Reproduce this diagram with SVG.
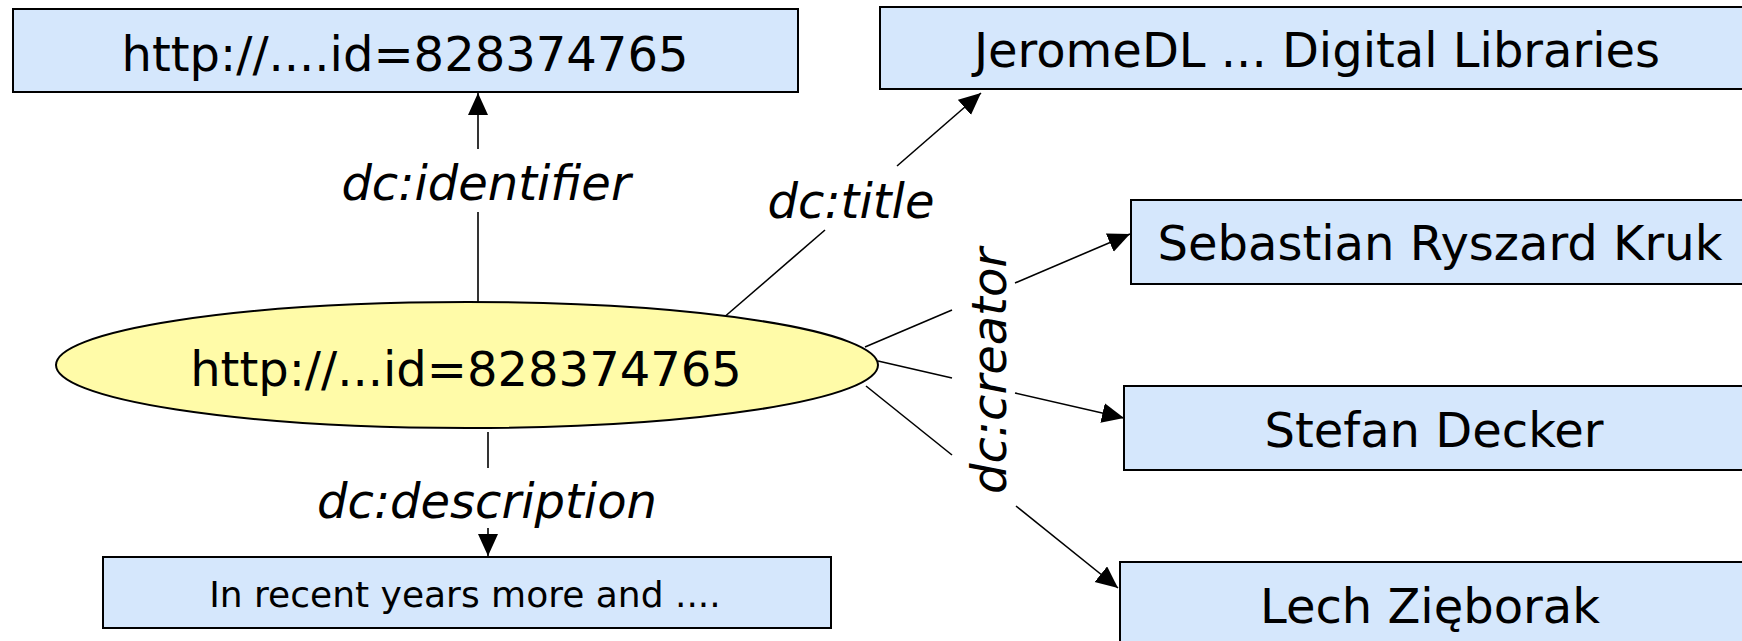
<svg xmlns="http://www.w3.org/2000/svg" width="1742" height="641" viewBox="0 0 1742 641">
<defs>
<marker id="arr" markerUnits="userSpaceOnUse" markerWidth="24" markerHeight="22" refX="22" refY="10" orient="auto">
<path d="M0,0 L22,10 L0,20 z" fill="#000"/>
</marker>
<style>
.box{fill:#D5E7FC;stroke:#000;stroke-width:2}
.ell{fill:#FFFBA8;stroke:#000;stroke-width:2}
.t{font-family:"DejaVu Sans",sans-serif;font-size:48px;fill:#000;text-anchor:middle}
.s{font-size:36px}
.lbl{font-family:"DejaVu Sans",sans-serif;font-size:48px;font-style:italic;fill:#000;text-anchor:middle}
.c{stroke:#000;stroke-width:1.6;fill:none}
.a{marker-end:url(#arr)}
</style>
</defs>
<rect width="1742" height="641" fill="#fff"/>
<g id="connectors">
<line class="c" x1="478" y1="303" x2="478" y2="212"/>
<line class="c a" x1="478" y1="149" x2="478" y2="93"/>
<line class="c" x1="722" y1="319" x2="825" y2="230"/>
<line class="c a" x1="897" y1="166" x2="981" y2="93"/>
<line class="c" x1="865" y1="347" x2="952" y2="310"/>
<line class="c a" x1="1015" y1="283" x2="1130" y2="234"/>
<line class="c" x1="878" y1="361" x2="952" y2="378"/>
<line class="c a" x1="1015" y1="393" x2="1124" y2="418"/>
<line class="c" x1="866" y1="386" x2="952" y2="455"/>
<line class="c a" x1="1016" y1="506" x2="1118" y2="588"/>
<line class="c" x1="488" y1="432" x2="488" y2="468"/>
<line class="c a" x1="488" y1="528" x2="488" y2="556"/>
<text class="lbl" x="486" y="200">dc:identifier</text>
<text class="lbl" x="851" y="218">dc:title</text>
<text class="lbl" x="487" y="518">dc:description</text>
<text class="lbl" transform="translate(1006,371) rotate(-90)">dc:creator</text>
</g>
<g id="n-resource">
<ellipse class="ell" cx="467" cy="365" rx="411" ry="63"/>
<text class="t" x="466" y="386">http://...id=828374765</text>
</g>
<g id="n-identifier">
<rect class="box" x="13" y="9" width="785" height="83"/>
<text class="t" x="405" y="71">http://....id=828374765</text>
</g>
<g id="n-title">
<rect class="box" x="880" y="7" width="880" height="82"/>
<text class="t" x="1317" y="67">JeromeDL ... Digital Libraries</text>
</g>
<g id="n-creator1">
<rect class="box" x="1131" y="200" width="640" height="84"/>
<text class="t" x="1440" y="260">Sebastian Ryszard Kruk</text>
</g>
<g id="n-creator2">
<rect class="box" x="1124" y="386" width="640" height="84"/>
<text class="t" x="1434" y="447">Stefan Decker</text>
</g>
<g id="n-creator3">
<rect class="box" x="1120" y="562" width="640" height="100"/>
<text class="t" x="1430" y="623">Lech Zięborak</text>
</g>
<g id="n-description">
<rect class="box" x="103" y="557" width="728" height="71"/>
<text class="t s" x="465" y="607">In recent years more and ....</text>
</g>
</svg>
